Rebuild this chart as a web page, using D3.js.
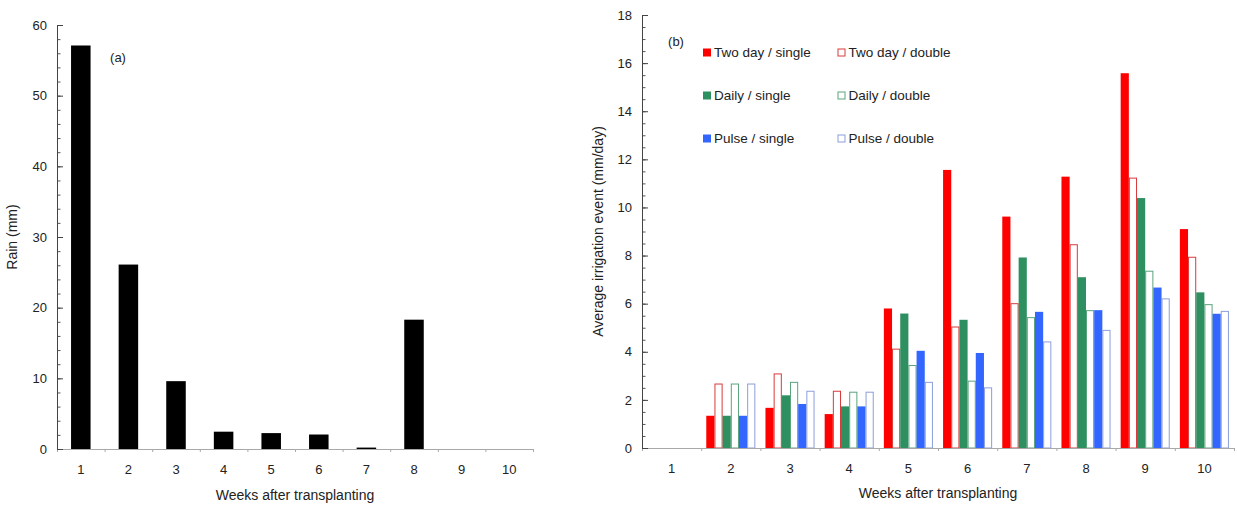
<!DOCTYPE html>
<html>
<head>
<meta charset="utf-8">
<script src="https://cdn.jsdelivr.net/npm/d3@7"></script>
<style>
  body { margin: 0; background: #fff; }
  svg text { font-family: "Liberation Sans", Arial, sans-serif; fill: #222; }
</style>
</head>
<body>
<svg id="chart" width="1237" height="508"></svg>
<script>
// Weeks after transplanting
const weeks = ["1", "2", "3", "4", "5", "6", "7", "8", "9", "10"];

// (a) weekly rain, mm
const rain = [57.1, 26.1, 9.6, 2.45, 2.25, 2.05, 0.2, 18.3, 0, 0];

// (b) average irrigation event, mm/day
const twoDaySingle = [0, 1.34, 1.67, 1.41, 5.8, 11.56, 9.62, 11.28, 15.58, 9.1];
const twoDayDouble = [0, 2.68, 3.1, 2.38, 4.13, 5.05, 6.02, 8.47, 11.24, 7.95];
const dailySingle = [0, 1.34, 2.19, 1.73, 5.59, 5.33, 7.92, 7.1, 10.39, 6.47];
const dailyDouble = [0, 2.68, 2.75, 2.34, 3.45, 2.8, 5.44, 5.73, 7.37, 5.98];
const pulseSingle = [0, 1.34, 1.83, 1.73, 4.04, 3.95, 5.66, 5.73, 6.67, 5.58];
const pulseDouble = [0, 2.68, 2.38, 2.34, 2.75, 2.52, 4.43, 4.91, 6.22, 5.7];

const seriesNames = [
  "Two day / single", "Two day / double",
  "Daily / single", "Daily / double",
  "Pulse / single", "Pulse / double",
];
const seriesValues = [twoDaySingle, twoDayDouble, dailySingle, dailyDouble, pulseSingle, pulseDouble];

const styles = {
  "Two day / single": { fill: "#ff0000", stroke: "#ff0000" },
  "Two day / double": { fill: "#fff", stroke: "#d83a3a" },
  "Daily / single": { fill: "#2e9060", stroke: "#2e9060" },
  "Daily / double": { fill: "#fff", stroke: "#5aa47c" },
  "Pulse / single": { fill: "#3366ff", stroke: "#3366ff" },
  "Pulse / double": { fill: "#fff", stroke: "#8c9edc" },
};

const tickFont = 13;
const titleFont = 14;
const legendFont = 13.5;

const svg = d3.select("#chart");

// ---------- panel (a) ----------
const a = { left: 57, right: 533, top: 25, bottom: 449 };

const xa = d3.scaleBand().domain(weeks).range([a.left, a.right]).paddingInner(0.59).paddingOuter(0.295);
const xaLin = d3.scaleLinear().domain([0, 10]).range([a.left, a.right]);
const ya = d3.scaleLinear().domain([0, 60]).range([a.bottom, a.top]);

const gA = svg.append("g");

gA.append("g")
  .selectAll("rect")
  .data(weeks.map((w, i) => ({ w, v: rain[i] })).filter((d) => d.v > 0))
  .join("rect")
  .attr("x", (d) => xa(d.w))
  .attr("y", (d) => ya(d.v))
  .attr("width", xa.bandwidth())
  .attr("height", (d) => ya(0) - ya(d.v))
  .attr("fill", "#000");

drawXAxis(gA, xaLin, xa, a);
drawYAxis(gA, ya, a, d3.range(0, 61, 10), d3.range(0, 61, 2));

gA.append("text")
  .attr("transform", `translate(17,${(a.top + a.bottom) / 2}) rotate(-90)`)
  .attr("text-anchor", "middle")
  .attr("font-size", titleFont)
  .text("Rain (mm)");

gA.append("text")
  .attr("x", (a.left + a.right) / 2)
  .attr("y", 500)
  .attr("text-anchor", "middle")
  .attr("font-size", titleFont)
  .text("Weeks after transplanting");

gA.append("text")
  .attr("x", 118)
  .attr("y", 62)
  .attr("text-anchor", "middle")
  .attr("font-size", tickFont)
  .text("(a)");

// ---------- panel (b) ----------
const b = { left: 642, right: 1234, top: 15, bottom: 448 };

const x0 = d3.scaleBand().domain(weeks).range([b.left, b.right]);
const x1 = d3.scaleBand().domain(seriesNames).range([0, x0.bandwidth()]).paddingOuter(0.62);
const xbLin = d3.scaleLinear().domain([0, 10]).range([b.left, b.right]);
const yb = d3.scaleLinear().domain([0, 18]).range([b.bottom, b.top]);

const gB = svg.append("g");

const barData = [];
weeks.forEach((w, i) => {
  seriesNames.forEach((s, j) => {
    const v = seriesValues[j][i];
    if (v > 0) barData.push({ w, s, v, hollow: styles[s].fill === "#fff" });
  });
});

gB.append("g")
  .selectAll("rect")
  .data(barData)
  .join("rect")
  .attr("x", (d) => x0(d.w) + x1(d.s) + (d.hollow ? 0.5 : 0))
  .attr("y", (d) => yb(d.v) + (d.hollow ? 0.5 : 0))
  .attr("width", (d) => x1.bandwidth() - (d.hollow ? 1 : 0))
  .attr("height", (d) => yb(0) - yb(d.v) - (d.hollow ? 0.5 : 0))
  .attr("fill", (d) => styles[d.s].fill)
  .attr("stroke", (d) => (d.hollow ? styles[d.s].stroke : "none"))
  .attr("stroke-width", 1);

drawXAxis(gB, xbLin, x0, b);
drawYAxis(gB, yb, b, d3.range(0, 19, 2), d3.range(0, 18.01, 0.5));

gB.append("text")
  .attr("transform", `translate(603,${(b.top + b.bottom) / 2}) rotate(-90)`)
  .attr("text-anchor", "middle")
  .attr("font-size", titleFont)
  .text("Average irrigation event (mm/day)");

gB.append("text")
  .attr("x", (b.left + b.right) / 2)
  .attr("y", 498)
  .attr("text-anchor", "middle")
  .attr("font-size", titleFont)
  .text("Weeks after transplanting");

gB.append("text")
  .attr("x", 676)
  .attr("y", 46)
  .attr("text-anchor", "middle")
  .attr("font-size", tickFont)
  .text("(b)");

// legend, two columns
const legend = gB.append("g");
seriesNames.forEach((name, i) => {
  const lx = 703 + (i % 2) * 134.5;
  const ly = 52.5 + Math.floor(i / 2) * 43;
  const st = styles[name];
  const hollow = st.fill === "#fff";
  legend.append("rect")
    .attr("x", hollow ? lx + 0.5 : lx)
    .attr("y", hollow ? ly - 3.5 : ly - 4)
    .attr("width", hollow ? 7 : 8)
    .attr("height", hollow ? 7 : 8)
    .attr("fill", st.fill)
    .attr("stroke", hollow ? st.stroke : "none");
  legend.append("text")
    .attr("x", lx + 11)
    .attr("y", ly)
    .attr("dy", "0.36em")
    .attr("font-size", legendFont)
    .text(name);
});

// ---------- axis helpers ----------
function drawXAxis(g, lin, band, box) {
  g.append("g")
    .attr("transform", `translate(0,${box.bottom})`)
    .call(d3.axisBottom(lin).tickValues(d3.range(0, 11)).tickSize(3).tickSizeOuter(0).tickFormat(""))
    .call((s) => s.selectAll("path, line").attr("stroke", "#a8a8a8"));

  g.append("g")
    .attr("transform", `translate(0,${box.bottom})`)
    .call(d3.axisBottom(band).tickSize(0).tickPadding(16))
    .call((s) => s.select(".domain").remove())
    .call((s) => s.selectAll("text").attr("font-size", tickFont).attr("font-family", null).attr("fill", "#222"));
}

function drawYAxis(g, y, box, major, minor) {
  g.append("g")
    .attr("transform", `translate(${box.left},0)`)
    .call(d3.axisLeft(y).tickValues(minor).tickSizeInner(-3.5).tickSizeOuter(0).tickFormat(""))
    .call((s) => s.select(".domain").remove())
    .call((s) => s.selectAll("line").attr("stroke", "#555"));

  g.append("g")
    .attr("transform", `translate(${box.left},0)`)
    .call(d3.axisLeft(y).tickValues(major).tickSizeInner(-6).tickSizeOuter(0).tickPadding(10))
    .call((s) => s.selectAll("path, line").attr("stroke", "#444"))
    .call((s) => s.selectAll("text").attr("font-size", tickFont).attr("font-family", null).attr("fill", "#222"));
}
</script>
</body>
</html>
